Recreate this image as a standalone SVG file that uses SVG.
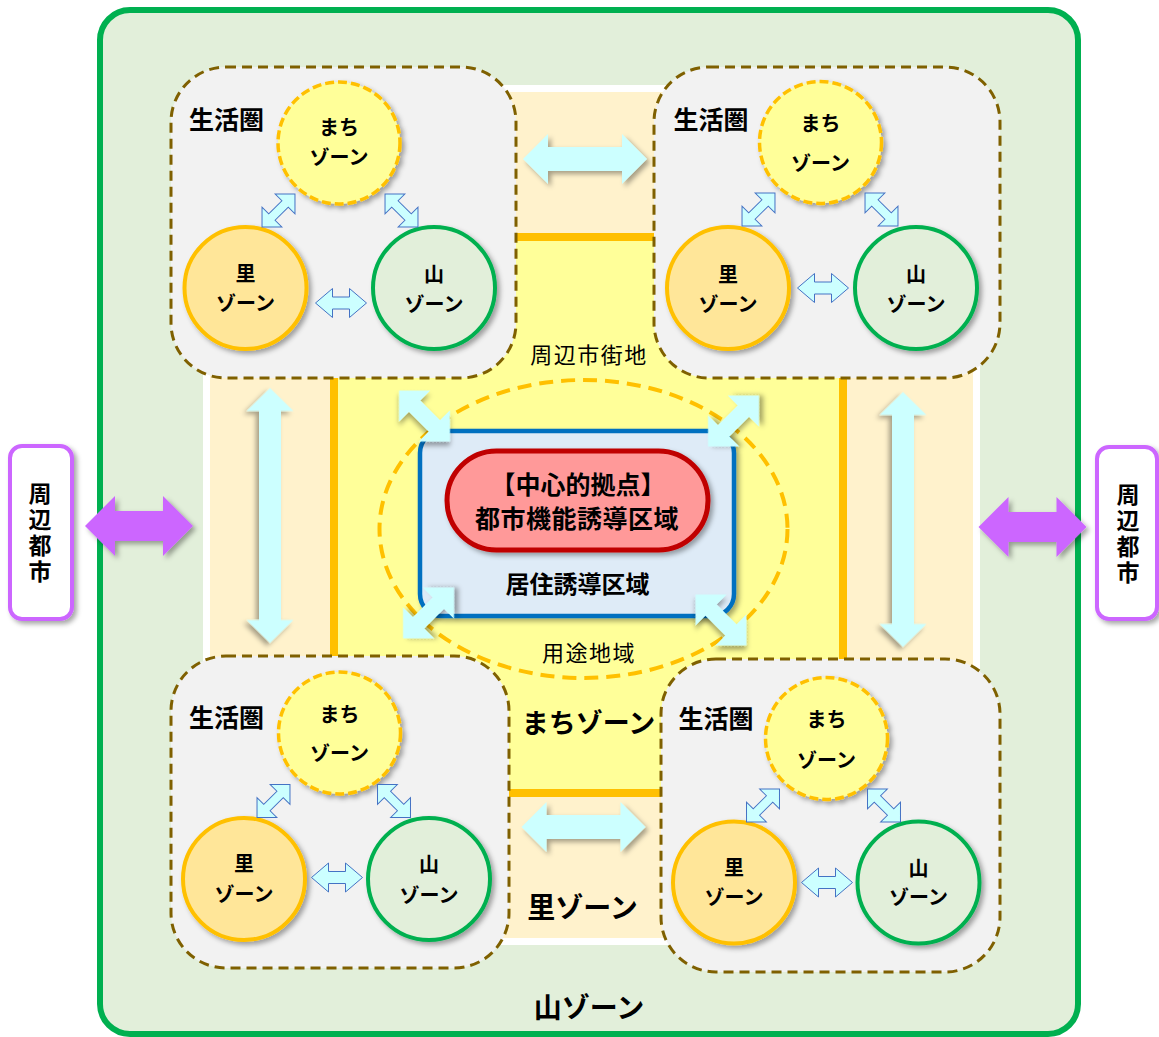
<svg xmlns="http://www.w3.org/2000/svg" xmlns:xlink="http://www.w3.org/1999/xlink" width="1159" height="1037" viewBox="0 0 1159 1037">
<style>
text{font-family:"Noto Sans CJK JP","Noto Sans",sans-serif;fill:#000;text-anchor:middle}
.b{font-weight:700}
.lb{font-size:25px;font-weight:700}
.ct{font-size:20px;font-weight:700}
.big{font-size:28px;font-weight:700}
.rg{font-size:22px;font-weight:400;letter-spacing:1.5px}
.vt{font-size:23px;font-weight:700;writing-mode:vertical-rl;letter-spacing:3px}
.box{fill:#F2F2F2;stroke:#7F6000;stroke-width:3;stroke-dasharray:10 6}
.cm{fill:#FFFF99;stroke:#FFC000;stroke-width:3.5;stroke-dasharray:9 4}
.cs{fill:#FFE699;stroke:#FFC000;stroke-width:4}
.cy{fill:#E2EFDA;stroke:#00B050;stroke-width:4}
.sa{fill:#CCFFFF;stroke:#4472C4;stroke-width:1}
.ba{fill:#CCFFFF}
.pa{fill:#CC66FF}
.city{fill:#FFFFFF;stroke:#CC66FF;stroke-width:4}
</style>
<defs>
<filter id="sh" x="-30%" y="-30%" width="160%" height="160%">
<feDropShadow dx="3" dy="3" stdDeviation="2.5" flood-color="#000" flood-opacity="0.35"/>
</filter>
<path id="sah" d="M-25.5,0 L-8.5,-14.5 L-8.5,-6 L8.5,-6 L8.5,-14.5 L25.5,0 L8.5,14.5 L8.5,6 L-8.5,6 L-8.5,14.5 Z"/>
<path id="sad" d="M-23.3,0 L-9.3,-14 L-9.3,-4.5 L9.3,-4.5 L9.3,-14 L23.3,0 L9.3,14 L9.3,4.5 L-9.3,4.5 L-9.3,14 Z"/>
<path id="bad" d="M-36,0 L-14,-22 L-14,-8 L14,-8 L14,-22 L36,0 L14,22 L14,8 L-14,8 L-14,22 Z"/>
<path id="bav" d="M-127.5,0 L-104.5,-23.5 L-104.5,-11 L104.5,-11 L104.5,-23.5 L127.5,0 L104.5,23.5 L104.5,11 L-104.5,11 L-104.5,23.5 Z"/>
<path id="bah" d="M-62,0 L-37,-25 L-37,-12 L37,-12 L37,-25 L62,0 L37,25 L37,12 L-37,12 L-37,25 Z"/>
<path id="pah" d="M-54,0 L-24,-30 L-24,-15 L24,-15 L24,-30 L54,0 L24,30 L24,15 L-24,15 L-24,30 Z"/>
</defs>

<g id="background">
<rect x="100" y="10" width="978" height="1024" rx="30" fill="#E2EFDA" stroke="#00B050" stroke-width="6"/>
<rect x="206.5" y="88.5" width="770" height="853" fill="#FFF2CC" stroke="#FFFFFF" stroke-width="7"/>
<rect x="334" y="237" width="509" height="556" fill="#FFFF99" stroke="#FFC000" stroke-width="8"/>
<ellipse cx="583.5" cy="529" rx="204" ry="149" fill="#FFFF99" stroke="#FFC000" stroke-width="4" stroke-dasharray="14 8"/>
<text class="rg" x="589" y="363">周辺市街地</text>
<text class="rg" x="589" y="661">用途地域</text>
<text class="big" x="588.5" y="733" style="font-size:27px">まちゾーン</text>
<text class="big" x="582.5" y="918">里ゾーン</text>
<text class="big" x="589" y="1018">山ゾーン</text>
</g>

<g id="seikatsuken-tl">
<rect class="box" x="171" y="67" width="345" height="311" rx="55"/>
<text class="lb" x="226.5" y="128.5">生活圏</text>
<circle class="cm" cx="339" cy="143" r="61" filter="url(#sh)"/>
<circle class="cs" cx="245.5" cy="288" r="61" filter="url(#sh)"/>
<circle class="cy" cx="434" cy="288" r="61" filter="url(#sh)"/>
<text class="ct" x="339" y="134.5">まち</text><text class="ct" x="339" y="164.5">ゾーン</text>
<text class="ct" x="245.5" y="280.5">里</text><text class="ct" x="245.5" y="310.5">ゾーン</text>
<text class="ct" x="434" y="282">山</text><text class="ct" x="434" y="312">ゾーン</text>
</g>

<g id="seikatsuken-tr">
<rect class="box" x="654" y="67" width="346" height="311" rx="55"/>
<text class="lb" x="711" y="129">生活圏</text>
<circle class="cm" cx="820.5" cy="142.5" r="61" filter="url(#sh)"/>
<circle class="cs" cx="728" cy="288" r="61" filter="url(#sh)"/>
<circle class="cy" cx="916" cy="288" r="61" filter="url(#sh)"/>
<text class="ct" x="820.5" y="131">まち</text><text class="ct" x="820.5" y="171">ゾーン</text>
<text class="ct" x="728" y="281.5">里</text><text class="ct" x="728" y="311.5">ゾーン</text>
<text class="ct" x="916" y="281.5">山</text><text class="ct" x="916" y="311.5">ゾーン</text>
</g>

<g id="seikatsuken-bl">
<rect class="box" x="171" y="656" width="338" height="312" rx="55"/>
<text class="lb" x="226.5" y="727">生活圏</text>
<circle class="cm" cx="339.5" cy="733" r="61" filter="url(#sh)"/>
<circle class="cs" cx="244" cy="879" r="61" filter="url(#sh)"/>
<circle class="cy" cx="429" cy="879" r="61" filter="url(#sh)"/>
<text class="ct" x="339.5" y="721.5">まち</text><text class="ct" x="339.5" y="761">ゾーン</text>
<text class="ct" x="244" y="870.5">里</text><text class="ct" x="244" y="901.5">ゾーン</text>
<text class="ct" x="429" y="871.5">山</text><text class="ct" x="429" y="902.5">ゾーン</text>
</g>

<g id="seikatsuken-br">
<rect class="box" x="661" y="659" width="339" height="313" rx="55"/>
<text class="lb" x="716" y="728">生活圏</text>
<circle class="cm" cx="826.5" cy="738.5" r="61" filter="url(#sh)"/>
<circle class="cs" cx="734" cy="882.5" r="61" filter="url(#sh)"/>
<circle class="cy" cx="918.5" cy="882.5" r="61" filter="url(#sh)"/>
<text class="ct" x="826.5" y="727">まち</text><text class="ct" x="826.5" y="767.5">ゾーン</text>
<text class="ct" x="734" y="875">里</text><text class="ct" x="734" y="905">ゾーン</text>
<text class="ct" x="918.5" y="876">山</text><text class="ct" x="918.5" y="905">ゾーン</text>
</g>

<g id="center-zone">
<rect x="420" y="431" width="314" height="185" rx="22" fill="#DEEBF7" stroke="#0070C0" stroke-width="4.5" filter="url(#sh)"/>
<rect x="447" y="451" width="261" height="99" rx="49.5" fill="#FF9999" stroke="#C00000" stroke-width="5" filter="url(#sh)"/>
<text class="b" x="578" y="494" style="font-size:25px">【中心的拠点】</text>
<text class="b" x="577" y="528" style="font-size:25px;letter-spacing:0.5px">都市機能誘導区域</text>
<text class="b" x="577.5" y="592.5" style="font-size:24px">居住誘導区域</text>
</g>

<g id="city-left">
<rect class="city" x="10" y="446" width="62" height="173" rx="12" filter="url(#sh)"/>
<text class="vt" x="40" y="534">周辺都市</text>
</g>
<g id="city-right">
<rect class="city" x="1097" y="447" width="60" height="172" rx="12" filter="url(#sh)"/>
<text class="vt" x="1128" y="535">周辺都市</text>
</g>

<g id="connectors">
<use href="#sad" class="sa" transform="translate(278.5,210.5) rotate(-45)"/>
<use href="#sad" class="sa" transform="translate(401.5,210.5) rotate(45)"/>
<use href="#sah" class="sa" transform="translate(341,303)"/>
<use href="#sad" class="sa" transform="translate(758.5,209.5) rotate(-45)"/>
<use href="#sad" class="sa" transform="translate(881.5,209.5) rotate(45)"/>
<use href="#sah" class="sa" transform="translate(823,288)"/>
<use href="#sad" class="sa" transform="translate(273.5,801) rotate(-45)"/>
<use href="#sad" class="sa" transform="translate(394,801) rotate(45)"/>
<use href="#sah" class="sa" transform="translate(337,877.5)"/>
<use href="#sad" class="sa" transform="translate(763,805.5) rotate(-45)"/>
<use href="#sad" class="sa" transform="translate(884,805.5) rotate(45)"/>
<use href="#sah" class="sa" transform="translate(827,882.5)"/>
<use href="#bah" class="ba" filter="url(#sh)" transform="translate(585,159)"/>
<use href="#bah" class="ba" filter="url(#sh)" transform="translate(583.5,827)"/>
<use href="#bav" class="ba" filter="url(#sh)" transform="translate(270,515.5) rotate(90)"/>
<use href="#bav" class="ba" filter="url(#sh)" transform="translate(903,519.5) rotate(90)"/>
<use href="#bad" class="ba" filter="url(#sh)" transform="translate(424.5,416) rotate(45)"/>
<use href="#bad" class="ba" filter="url(#sh)" transform="translate(733.5,421) rotate(-45)"/>
<use href="#bad" class="ba" filter="url(#sh)" transform="translate(428.5,613) rotate(-45)"/>
<use href="#bad" class="ba" filter="url(#sh)" transform="translate(721,620) rotate(45)"/>
<use href="#pah" class="pa" filter="url(#sh)" transform="translate(139,526)"/>
<use href="#pah" class="pa" filter="url(#sh)" transform="translate(1032.5,527)"/>
</g>
</svg>
